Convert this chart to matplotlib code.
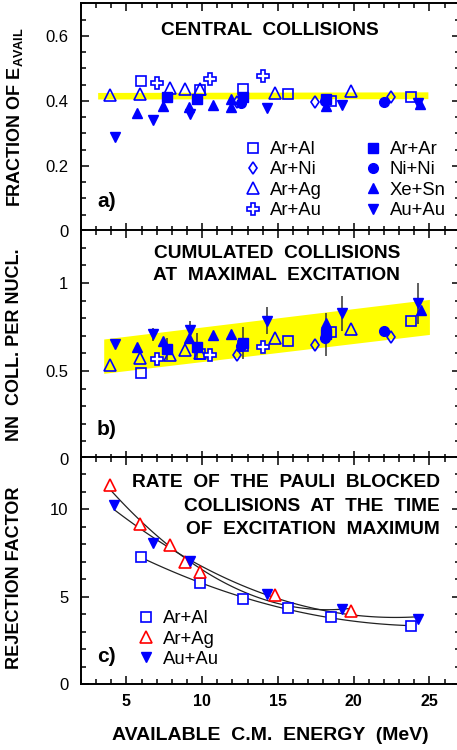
import numpy as np
import matplotlib
matplotlib.use('Agg')
import matplotlib.pyplot as plt
from matplotlib.ticker import MultipleLocator, FuncFormatter

plt.rcParams['font.family'] = ['Liberation Sans', 'DejaVu Sans']
plt.rcParams['mathtext.fontset'] = 'custom'
plt.rcParams['mathtext.rm'] = 'Liberation Sans:bold'
plt.rcParams['mathtext.it'] = 'Liberation Sans:bold'

# panel a) fraction of E_avail, panel b) NN collisions per nucleon
ar_al_x = [5.96, 9.86, 12.68, 15.65, 18.49, 23.78]
ar_al_a = [0.462, 0.434, 0.436, 0.422, 0.400, 0.411]
ar_al_b = [0.487, 0.597, 0.642, 0.672, 0.723, 0.786]

ar_ni_x = [12.28, 17.46, 22.45]
ar_ni_a = [0.398, 0.398, 0.413]
ar_ni_b = [0.591, 0.648, 0.691]

ar_ag_x = [3.92, 5.90, 7.88, 8.87, 9.86, 14.81, 19.83]
ar_ag_a = [0.418, 0.421, 0.439, 0.438, 0.436, 0.425, 0.429]
ar_ag_b = [0.534, 0.572, 0.591, 0.619, 0.605, 0.686, 0.739]

ar_au_x = [7.00, 10.52, 14.00]
ar_au_a = [0.455, 0.467, 0.477]
ar_au_b = [0.568, 0.591, 0.635]

ar_ar_x = [7.66, 9.64, 12.68, 18.18]
ar_ar_a = [0.411, 0.406, 0.411, 0.406]
ar_ar_b = [0.623, 0.638, 0.661, 0.708]
ar_ar_berr = [0.062, 0.078, 0.090, 0.123]

ni_ni_x = [12.57, 18.10, 22.03]
ni_ni_a = [0.393, 0.400, 0.398]
ni_ni_b = [0.642, 0.686, 0.727]

xe_sn_xa = [5.68, 7.40, 9.15, 10.70, 11.91, 11.91, 18.16, 24.35]
xe_sn_a = [0.362, 0.385, 0.382, 0.388, 0.405, 0.382, 0.385, 0.390]
xe_sn_xb = [5.68, 7.40, 9.15, 10.70, 11.91, 18.16, 24.43]
xe_sn_b = [0.638, 0.670, 0.690, 0.704, 0.708, 0.771, 0.847]

au_au_x = [4.22, 6.73, 9.22, 14.26, 19.23, 24.26]
au_au_a = [0.290, 0.342, 0.359, 0.378, 0.388, 0.393]
au_au_b = [0.652, 0.708, 0.733, 0.786, 0.828, 0.885]
au_au_berr = [0.0, 0.038, 0.050, 0.078, 0.100, 0.118]

band_a_x = [3.1, 24.9]
band_a_lo = [0.406, 0.407]
band_a_hi = [0.426, 0.428]
band_b_x = [3.5, 25.0]
band_b_lo = [0.487, 0.708]
band_b_hi = [0.682, 0.907]

# panel c) rejection factor
c_ar_al_x = [5.96, 9.86, 12.72, 15.65, 18.49, 23.78]
c_ar_al = [7.27, 5.81, 4.86, 4.33, 3.85, 3.32]
c_ar_ag_x = [3.92, 5.90, 7.88, 8.87, 9.86, 14.81, 19.83]
c_ar_ag = [11.36, 9.14, 7.98, 6.99, 6.42, 5.09, 4.18]
c_au_au_x = [4.20, 6.73, 9.20, 14.26, 19.22, 24.24]
c_au_au = [10.26, 8.04, 7.03, 5.13, 4.29, 3.72]

BLUE = '#0000ff'
open_kw = dict(mfc='none', mec=BLUE, mew=1.2, ls='none')
fill_kw = dict(color=BLUE, ls='none')
TFS = 13.8   # panel titles
LFS = 13.3   # legends

fig = plt.figure(figsize=(4.57, 7.5), dpi=100)
W = 0.8287
axa = fig.add_axes([0.1772, 0.692, W, 0.3035])
axb = fig.add_axes([0.1772, 0.388, W, 0.305])
axc = fig.add_axes([0.1772, 0.0876, W, 0.3036])

fmt = FuncFormatter(lambda v, p: '%g' % v)
for ax in (axa, axb, axc):
    ax.set_xlim(2, 27)
    ax.xaxis.set_major_locator(MultipleLocator(5))
    ax.xaxis.set_minor_locator(MultipleLocator(1))
    ax.tick_params(which='both', direction='in', top=True, right=True,
                   labelsize=12, width=1.1)
    ax.tick_params(which='major', length=6, pad=9)
    ax.tick_params(which='minor', length=3.5)
    ax.yaxis.set_major_formatter(fmt)
    for s in ax.spines.values():
        s.set_linewidth(1.4)
axa.tick_params(labelbottom=False)
axb.tick_params(labelbottom=False)
axc.tick_params(axis='x', labelsize=11.5, pad=7)
for lab in axc.get_xticklabels():
    lab.set_fontweight('bold')

# --- a)
axa.set_ylim(0, 0.7)
axa.yaxis.set_major_locator(MultipleLocator(0.2))
axa.yaxis.set_minor_locator(MultipleLocator(0.05))
axa.fill_between(band_a_x, band_a_lo, band_a_hi, color='#ffff00', lw=0, zorder=1)
h = []
h += axa.plot(ar_al_x, ar_al_a, 's', ms=7, label='Ar+Al', **open_kw)
h += axa.plot(ar_ni_x, ar_ni_a, 'd', ms=6, label='Ar+Ni', **open_kw)
h += axa.plot(ar_ag_x, ar_ag_a, '^', ms=8, label='Ar+Ag', **open_kw)
h += axa.plot(ar_au_x, ar_au_a, 'P', ms=8.5, mfc='white', mec=BLUE, mew=1.2, ls='none', label='Ar+Au')
h += axa.plot(ar_ar_x, ar_ar_a, 's', ms=7, label='Ar+Ar', **fill_kw)
h += axa.plot(ni_ni_x, ni_ni_a, 'o', ms=7, label='Ni+Ni', **fill_kw)
h += axa.plot(xe_sn_xa, xe_sn_a, '^', ms=7, label='Xe+Sn', **fill_kw)
h += axa.plot(au_au_x, au_au_a, 'v', ms=7, label='Au+Au', **fill_kw)
axa.legend(handles=h, ncol=2, loc='upper left', bbox_to_anchor=(0.43, 0.395),
           frameon=False, fontsize=LFS, handlelength=1.0, handletextpad=0.4,
           columnspacing=2.3, labelspacing=0.18, borderpad=0, borderaxespad=0)
axa.text(0.499, 0.88, 'CENTRAL  COLLISIONS', transform=axa.transAxes,
         ha='center', va='center', fontsize=TFS, fontweight='bold')
axa.text(0.068, 0.129, 'a)', transform=axa.transAxes, ha='center', va='center',
         fontsize=15, fontweight='bold')

# --- b)
axb.set_ylim(0, 1.3)
axb.yaxis.set_major_locator(MultipleLocator(0.5))
axb.yaxis.set_minor_locator(MultipleLocator(0.1))
axb.fill_between(band_b_x, band_b_lo, band_b_hi, color='#ffff00', lw=0, zorder=1)
axb.errorbar(ar_ar_x, ar_ar_b, yerr=ar_ar_berr, fmt='none', ecolor='#333333', elinewidth=1.1, zorder=2)
axb.errorbar(au_au_x, au_au_b, yerr=au_au_berr, fmt='none', ecolor='#333333', elinewidth=1.1, zorder=2)
axb.plot(ar_al_x, ar_al_b, 's', ms=7, zorder=3, **open_kw)
axb.plot(ar_ni_x, ar_ni_b, 'd', ms=6, zorder=3, **open_kw)
axb.plot(ar_ag_x, ar_ag_b, '^', ms=8, zorder=3, **open_kw)
axb.plot(ar_au_x, ar_au_b, 'P', ms=8.5, mfc='white', mec=BLUE, mew=1.2, ls='none', zorder=3)
axb.plot(ar_ar_x, ar_ar_b, 's', ms=7, zorder=3, **fill_kw)
axb.plot(ni_ni_x, ni_ni_b, 'o', ms=7, zorder=3, **fill_kw)
axb.plot(xe_sn_xb, xe_sn_b, '^', ms=7, zorder=3, **fill_kw)
axb.plot(au_au_x, au_au_b, 'v', ms=7, zorder=3, **fill_kw)
axb.text(0.517, 0.851, 'CUMULATED  COLLISIONS\nAT  MAXIMAL  EXCITATION', transform=axb.transAxes,
         ha='center', va='center', fontsize=TFS, fontweight='bold', linespacing=1.4)
axb.text(0.068, 0.127, 'b)', transform=axb.transAxes, ha='center', va='center',
         fontsize=15, fontweight='bold')

# --- c)
axc.set_ylim(0, 13)
axc.yaxis.set_major_locator(MultipleLocator(5))
axc.yaxis.set_minor_locator(MultipleLocator(1))
for xs, ys in ((c_ar_ag_x, c_ar_ag), (c_au_au_x, c_au_au), (c_ar_al_x, c_ar_al)):
    p = np.polyfit(xs, ys, 2)
    xx = np.linspace(min(xs), max(xs), 100)
    axc.plot(xx, np.polyval(p, xx), color='#222222', lw=0.9, zorder=2)
hc = []
hc += axc.plot(c_ar_al_x, c_ar_al, 's', ms=7, mfc='white', mec=BLUE, mew=1.2, ls='none', label='Ar+Al', zorder=3)
hc += axc.plot(c_ar_ag_x, c_ar_ag, '^', ms=8, mfc='white', mec='#ff0000', mew=1.2, ls='none', label='Ar+Ag', zorder=3)
hc += axc.plot(c_au_au_x, c_au_au, 'v', ms=7, color=BLUE, ls='none', label='Au+Au', zorder=3)
axc.legend(handles=hc, loc='upper left', bbox_to_anchor=(0.147, 0.325),
           frameon=False, fontsize=LFS, handlelength=1.0, handletextpad=0.4,
           labelspacing=0.18, borderpad=0, borderaxespad=0)
axc.text(0.948, 0.783, 'RATE  OF  THE  PAULI  BLOCKED\nCOLLISIONS  AT  THE  TIME\nOF  EXCITATION  MAXIMUM',
         transform=axc.transAxes, ha='right', va='center', fontsize=TFS,
         fontweight='bold', linespacing=1.5, multialignment='right')
axc.text(0.068, 0.121, 'c)', transform=axc.transAxes, ha='center', va='center',
         fontsize=15, fontweight='bold')

# axis labels
fig.text(15 / 457, 1 - 117 / 750, 'FRACTION OF E$_{\\mathrm{AVAIL}}$', rotation=90,
         ha='center', va='center', fontsize=13, fontweight='bold')
fig.text(15 / 457, 1 - 345 / 750, 'NN  COLL. PER NUCL.', rotation=90,
         ha='center', va='center', fontsize=13, fontweight='bold')
fig.text(15 / 457, 1 - 578 / 750, 'REJECTION FACTOR', rotation=90,
         ha='center', va='center', fontsize=13, fontweight='bold')
fig.text(270 / 457, 1 - 735 / 750, 'AVAILABLE  C.M.  ENERGY  (MeV)',
         ha='center', va='center', fontsize=14, fontweight='bold')

fig.savefig('out.png', dpi=100)
